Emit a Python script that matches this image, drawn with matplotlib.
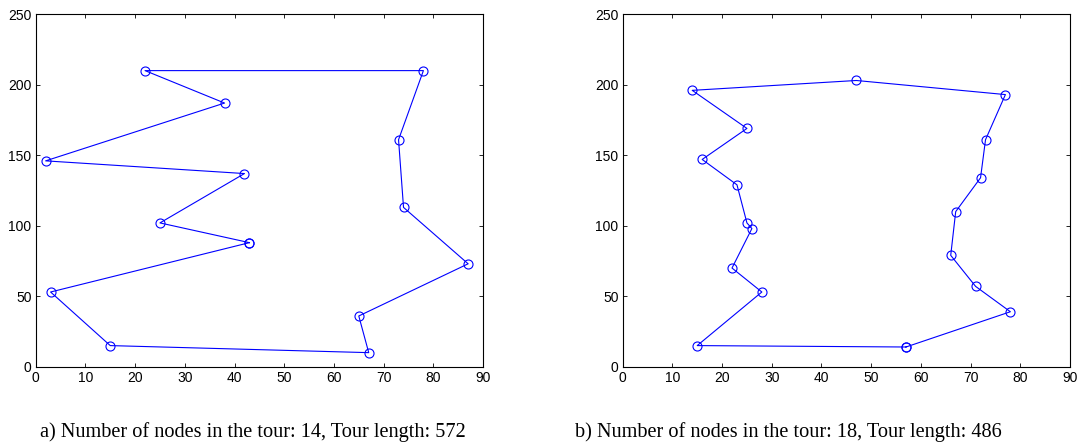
import matplotlib
matplotlib.use('Agg')
import matplotlib.pyplot as plt

# tour a) 14 nodes (closed, starts and ends at the same node)
xa = [43, 25, 42, 2, 38, 22, 78, 73, 74, 87, 65, 67, 15, 3, 43]
ya = [88, 102, 137, 146, 187, 210, 210, 161, 113, 73, 36, 10, 15, 53, 88]
# tour b) 18 nodes
xb = [57, 15, 28, 22, 26, 25, 23, 16, 25, 14, 47, 77, 73, 72, 67, 66, 71, 78, 57]
yb = [14, 15, 53, 70, 98, 102, 129, 147, 169, 196, 203, 193, 161, 134, 110, 79, 57, 39, 14]

captions = ['a) Number of nodes in the tour: 14, Tour length: 572',
            'b) Number of nodes in the tour: 18, Tour length: 486']

plt.rcParams['font.family'] = ['Liberation Sans', 'DejaVu Sans']

fig = plt.figure(figsize=(10.78, 4.44), dpi=100)
ax1 = fig.add_axes([0.0331, 0.174, 0.415, 0.794])
ax2 = fig.add_axes([0.5776, 0.174, 0.415, 0.794])

for ax, x, y in [(ax1, xa, ya), (ax2, xb, yb)]:
    ax.plot(x, y, '-o', color='#0000ff', lw=0.8, markersize=6.5,
            markerfacecolor='none', markeredgewidth=0.8)
    ax.set_xlim(0, 90)
    ax.set_ylim(0, 250)
    ax.set_xticks(range(0, 91, 10))
    ax.set_yticks(range(0, 251, 50))
    ax.tick_params(direction='in', top=True, right=True, length=3, width=0.6,
                   labelsize=10, pad=3)
    for s in ax.spines.values():
        s.set_linewidth(0.8)

# captions under the panels
fig.text(0.2347, 0.0164, captions[0], ha='center', va='baseline',
         fontsize=14.6, family='Liberation Serif')
fig.text(0.7315, 0.0164, captions[1], ha='center', va='baseline',
         fontsize=14.6, family='Liberation Serif')

fig.savefig('out.png', dpi=100)
